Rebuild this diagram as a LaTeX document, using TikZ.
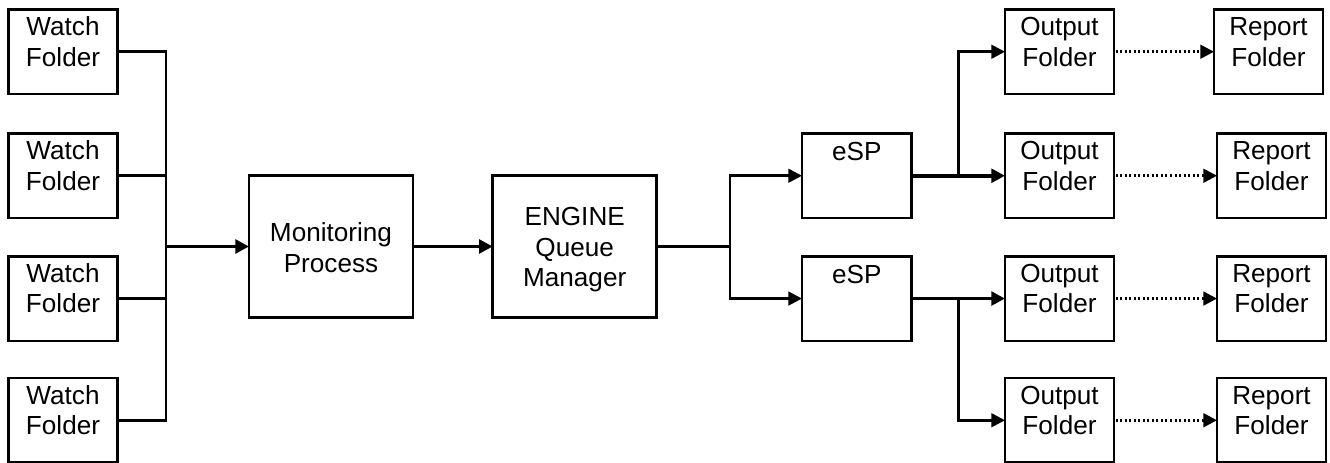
\documentclass[tikz,border=0pt]{standalone}
\usepackage{fontspec}
\setmainfont{Liberation Sans}
\usetikzlibrary{arrows.meta}
\newdimen\pxu \pxu=0.75pt
% #1 width px, #2 height px, #3 first baseline below top (px), #4 text
\newcommand{\boxtxt}[4]{\parbox[c][#2\pxu][t]{#1\pxu}{\fontsize{19.6pt}{22.9pt}\selectfont\centering\rule{0pt}{#3\pxu}#4\par}}
\tikzset{
  folderbox/.style={draw=black,line width=1.95pt,inner sep=0pt,outer sep=0pt,anchor=north west,fill=white},
  conn/.style={draw=black,line width=1.95pt,line join=miter},
  heavy/.style={draw=black,line width=2.9pt},
  tip/.style={-{Triangle[length=10.2pt,width=10.2pt]}},
  dots/.style={draw=black,line width=1.95pt,dash pattern=on 1.5pt off 1.9pt},
}
\begin{document}
\begin{tikzpicture}[x=0.75pt,y=-0.75pt]
\path[fill=white,use as bounding box] (0,0) rectangle (1330,463);
% Watch folders
\node[folderbox] (w1) at (8.5,9.5)   {\boxtxt{109}{84.5}{26}{Watch\\Folder}};
\node[folderbox] (w2) at (8.5,133.5) {\boxtxt{109}{84.5}{26}{Watch\\Folder}};
\node[folderbox] (w3) at (8.5,256.3) {\boxtxt{109}{84.5}{26}{Watch\\Folder}};
\node[folderbox] (w4) at (8.5,378)   {\boxtxt{109}{84.5}{26}{Watch\\Folder}};
% Centre
\node[folderbox] (mon) at (249,175.5) {\boxtxt{164}{142}{66}{Monitoring\\Process}};
\node[folderbox] (eng) at (492.7,175.5) {\boxtxt{164}{142}{50}{ENGINE\\Queue\\Manager}};
% eSP
\node[folderbox] (e1) at (802,133.5) {\boxtxt{109.5}{84.5}{26.7}{eSP}};
\node[folderbox] (e2) at (802,256.3) {\boxtxt{109.5}{84.5}{26.7}{eSP}};
% Output folders
\node[folderbox] (o1) at (1005,9.5)   {\boxtxt{109}{84.5}{26}{Output\\Folder}};
\node[folderbox] (o2) at (1005,133.5) {\boxtxt{109}{84.5}{26}{Output\\Folder}};
\node[folderbox] (o3) at (1005,256.3) {\boxtxt{109}{84.5}{26}{Output\\Folder}};
\node[folderbox] (o4) at (1005,378)   {\boxtxt{109}{84.5}{26}{Output\\Folder}};
% Report folders
\node[folderbox] (r1) at (1214,9.5)   {\boxtxt{109}{84.5}{26}{Report\\Folder}};
\node[folderbox] (r2) at (1217,133.5) {\boxtxt{109}{84.5}{26}{Report\\Folder}};
\node[folderbox] (r3) at (1217,256.3) {\boxtxt{109}{84.5}{26}{Report\\Folder}};
\node[folderbox] (r4) at (1217,378)   {\boxtxt{109}{84.5}{26}{Report\\Folder}};
% Junctions
\coordinate (bus) at (166,246.5);
\coordinate (split) at (730,246.5);
\coordinate (b1) at (958.7,175.75);
\coordinate (b2) at (958.7,298.55);
% Left bus
\draw[conn] (w1.east) -| (bus);
\draw[conn] (w4.east) -| (bus);
\draw[conn] (w2.east) -- (w2.east -| bus);
\draw[conn] (w3.east) -- (w3.east -| bus);
\draw[heavy,tip] (bus) -- (mon.west);
\draw[heavy,tip] (mon.east) -- (eng.west);
% Engine to eSP
\draw[conn] (eng.east) -- (split);
\draw[conn,tip] (split) |- (e1.west);
\draw[conn,tip] (split) |- (e2.west);
% eSP to outputs
\draw[heavy,tip] (e1.east) -- (o2.west);
\draw[heavy,tip] (e2.east) -- (o3.west);
\draw[conn,tip] (b1) |- (o1.west);
\draw[conn,tip] (b2) |- (o4.west);
% Dotted
\foreach \i in {1,2,3,4}{
  \draw[dots,-{Triangle[length=10.2pt,width=10.2pt]}] ([xshift=1.2pt]o\i.east) -- (r\i.west);
}
\end{tikzpicture}
\end{document}
